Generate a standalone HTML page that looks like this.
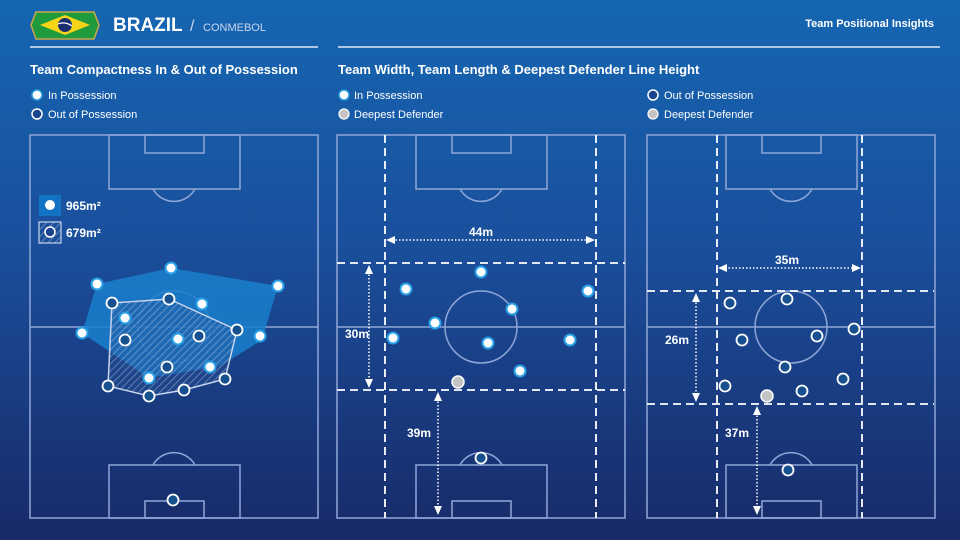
<!DOCTYPE html>
<html><head><meta charset="utf-8"><style>
html,body{margin:0;padding:0;width:960px;height:540px;overflow:hidden;}
svg{display:block;font-family:"Liberation Sans",sans-serif;}
</style></head><body>
<svg width="960" height="540" viewBox="0 0 960 540" xmlns="http://www.w3.org/2000/svg">
<defs>
<linearGradient id="bg" x1="0" y1="0" x2="0" y2="1">
<stop offset="0" stop-color="#1566b2"/>
<stop offset="0.45" stop-color="#1a4f9c"/>
<stop offset="1" stop-color="#182a68"/>
</linearGradient>
<pattern id="hatch" width="5" height="5" patternUnits="userSpaceOnUse" patternTransform="rotate(45)">
<rect width="5" height="5" fill="rgba(40,80,150,0.35)"/>
<line x1="0" y1="0" x2="0" y2="5" stroke="rgba(190,205,235,0.55)" stroke-width="1.5"/>
</pattern>
<g id="pitch" fill="none" stroke="#8fa6d8" stroke-width="1.5">
<rect x="0" y="0" width="288" height="383"/>
<line x1="0" y1="192" x2="288" y2="192"/>
<circle cx="144" cy="192" r="36"/>
<rect x="79" y="0" width="131" height="54"/>
<rect x="115" y="0" width="59" height="18"/>
<path d="M123 54 A24 24 0 0 0 165 54"/>
<rect x="79" y="330" width="131" height="53"/>
<rect x="115" y="366" width="59" height="17"/>
<path d="M123 330 A24 24 0 0 1 165 330"/>
</g>
</defs>
<rect width="960" height="540" fill="url(#bg)"/>

<!-- header -->
<path d="M36 12 L94 12 L99 25 L94 39 L36 39 L31 25 Z" fill="#1f9a3c" stroke="#c9a84a" stroke-width="1.5"/>
<path d="M65 15 L90 25 L65 35 L40 25 Z" fill="#f7d417"/>
<circle cx="65" cy="25" r="7" fill="#1a2f6e"/>
<path d="M58 24 Q65 21 72 26" stroke="#fff" stroke-width="1.2" fill="none"/>
<text x="113" y="31" font-size="19" font-weight="bold" fill="#fff">BRAZIL</text>
<text x="190" y="31" font-size="16" fill="#c8d6ee">/</text>
<text x="203" y="31" font-size="11" fill="#c8d6ee">CONMEBOL</text>
<text x="934" y="27" font-size="11" font-weight="bold" fill="#fff" text-anchor="end">Team Positional Insights</text>
<line x1="30" y1="47" x2="318" y2="47" stroke="#dfe8f6" stroke-width="1.5"/>
<line x1="338" y1="47" x2="940" y2="47" stroke="#dfe8f6" stroke-width="1.5"/>

<text x="30" y="74" font-size="13" font-weight="bold" fill="#fff">Team Compactness In &amp; Out of Possession</text>
<text x="338" y="74" font-size="13" font-weight="bold" fill="#fff">Team Width, Team Length &amp; Deepest  Defender Line Height</text>

<g font-size="11" fill="#fff">
<circle cx="37" cy="95" r="5" fill="#fff" stroke="#2a9ee0" stroke-width="1.5"/>
<text x="48" y="99">In Possession</text>
<circle cx="37" cy="114" r="5" fill="#18458e" stroke="#fff" stroke-width="1.5"/>
<text x="48" y="118">Out of Possession</text>
<circle cx="344" cy="95" r="5" fill="#fff" stroke="#2a9ee0" stroke-width="1.5"/>
<text x="354" y="99">In Possession</text>
<circle cx="344" cy="114" r="5" fill="#c4c4c4" stroke="#fff" stroke-width="1.2"/>
<text x="354" y="118">Deepest Defender</text>
<circle cx="653" cy="95" r="5" fill="#18458e" stroke="#fff" stroke-width="1.5"/>
<text x="664" y="99">Out of Possession</text>
<circle cx="653" cy="114" r="5" fill="#c4c4c4" stroke="#fff" stroke-width="1.2"/>
<text x="664" y="118">Deepest Defender</text>
</g>

<!-- pitches -->
<use href="#pitch" x="30" y="135"/>
<use href="#pitch" x="337" y="135"/>
<use href="#pitch" x="647" y="135"/>

<!-- pitch 1 -->
<rect x="39" y="195" width="22" height="21" fill="#1272c4"/>
<circle cx="50" cy="205" r="5" fill="#fff"/>
<text x="66" y="210" font-size="12" font-weight="bold" fill="#fff">965m²</text>
<rect x="39" y="222" width="22" height="21" fill="url(#hatch)" stroke="#c8d4ee" stroke-width="1.2"/>
<circle cx="50" cy="232" r="5" fill="#18458e" stroke="#fff" stroke-width="1.5"/>
<text x="66" y="237" font-size="12" font-weight="bold" fill="#fff">679m²</text>

<polygon points="97,284 171,268 278,286 262,340 220,366 149,378 82,333" fill="#1a7fcc" fill-opacity="0.85"/>
<polygon points="112,303 169,299 237,330 225,379 184,390 149,396 108,386" fill="url(#hatch)" stroke="#c8d4ee" stroke-width="1.5"/>
<g fill="#fff" stroke="#2aa0e6" stroke-width="2">
<circle cx="97" cy="284" r="5.5"/><circle cx="171" cy="268" r="5.5"/><circle cx="278" cy="286" r="5.5"/>
<circle cx="125" cy="318" r="5.5"/><circle cx="202" cy="304" r="5.5"/><circle cx="82" cy="333" r="5.5"/>
<circle cx="178" cy="339" r="5.5"/><circle cx="260" cy="336" r="5.5"/><circle cx="210" cy="367" r="5.5"/>
<circle cx="149" cy="378" r="5.5"/>
</g>
<g fill="#17508f" stroke="#fff" stroke-width="1.8">
<circle cx="112" cy="303" r="5.5"/><circle cx="169" cy="299" r="5.5"/><circle cx="125" cy="340" r="5.5"/>
<circle cx="199" cy="336" r="5.5"/><circle cx="237" cy="330" r="5.5"/><circle cx="167" cy="367" r="5.5"/>
<circle cx="225" cy="379" r="5.5"/><circle cx="108" cy="386" r="5.5"/><circle cx="149" cy="396" r="5.5"/>
<circle cx="184" cy="390" r="5.5"/><circle cx="173" cy="500" r="5.5"/>
</g>

<!-- pitch 2 -->
<g stroke="#fff" stroke-width="1.8" stroke-dasharray="8,5" fill="none">
<line x1="385" y1="135" x2="385" y2="518"/><line x1="596" y1="135" x2="596" y2="518"/>
<line x1="337" y1="263" x2="625" y2="263"/><line x1="337" y1="390" x2="625" y2="390"/>
</g>
<g stroke="#fff" stroke-width="1.5" stroke-dasharray="1.5,2" fill="none">
<line x1="392" y1="240" x2="589" y2="240"/>
<line x1="369" y1="271" x2="369" y2="382"/>
<line x1="438" y1="398" x2="438" y2="509"/>
</g>
<g fill="#fff">
<path d="M386 240 L395 236 L395 244Z"/><path d="M595 240 L586 236 L586 244Z"/>
<path d="M369 265 L365 274 L373 274Z"/><path d="M369 388 L365 379 L373 379Z"/>
<path d="M438 392 L434 401 L442 401Z"/><path d="M438 515 L434 506 L442 506Z"/>
</g>
<g font-size="12" font-weight="bold" fill="#fff">
<text x="481" y="236" text-anchor="middle">44m</text>
<text x="345" y="338">30m</text>
<text x="407" y="437">39m</text>
</g>
<g fill="#fff" stroke="#2aa0e6" stroke-width="2">
<circle cx="481" cy="272" r="5.5"/><circle cx="406" cy="289" r="5.5"/><circle cx="588" cy="291" r="5.5"/>
<circle cx="512" cy="309" r="5.5"/><circle cx="435" cy="323" r="5.5"/><circle cx="393" cy="338" r="5.5"/>
<circle cx="488" cy="343" r="5.5"/><circle cx="570" cy="340" r="5.5"/><circle cx="520" cy="371" r="5.5"/>
</g>
<circle cx="458" cy="382" r="6" fill="#c4c4c4" stroke="#fff" stroke-width="1.5"/>
<circle cx="481" cy="458" r="5.5" fill="#17508f" stroke="#fff" stroke-width="1.8"/>

<!-- pitch 3 -->
<g stroke="#fff" stroke-width="1.8" stroke-dasharray="8,5" fill="none">
<line x1="717" y1="135" x2="717" y2="518"/><line x1="862" y1="135" x2="862" y2="518"/>
<line x1="647" y1="291" x2="934" y2="291"/><line x1="647" y1="404" x2="934" y2="404"/>
</g>
<g stroke="#fff" stroke-width="1.5" stroke-dasharray="1.5,2" fill="none">
<line x1="725" y1="268" x2="854" y2="268"/>
<line x1="696" y1="299" x2="696" y2="396"/>
<line x1="757" y1="412" x2="757" y2="509"/>
</g>
<g fill="#fff">
<path d="M718 268 L727 264 L727 272Z"/><path d="M861 268 L852 264 L852 272Z"/>
<path d="M696 293 L692 302 L700 302Z"/><path d="M696 402 L692 393 L700 393Z"/>
<path d="M757 406 L753 415 L761 415Z"/><path d="M757 515 L753 506 L761 506Z"/>
</g>
<g font-size="12" font-weight="bold" fill="#fff">
<text x="787" y="264" text-anchor="middle">35m</text>
<text x="665" y="344">26m</text>
<text x="725" y="437">37m</text>
</g>
<g fill="#17508f" stroke="#fff" stroke-width="1.8">
<circle cx="730" cy="303" r="5.5"/><circle cx="787" cy="299" r="5.5"/><circle cx="854" cy="329" r="5.5"/>
<circle cx="742" cy="340" r="5.5"/><circle cx="817" cy="336" r="5.5"/><circle cx="785" cy="367" r="5.5"/>
<circle cx="843" cy="379" r="5.5"/><circle cx="725" cy="386" r="5.5"/><circle cx="802" cy="391" r="5.5"/>
<circle cx="788" cy="470" r="5.5"/>
</g>
<circle cx="767" cy="396" r="6" fill="#c4c4c4" stroke="#fff" stroke-width="1.5"/>
</svg>
</body></html>
